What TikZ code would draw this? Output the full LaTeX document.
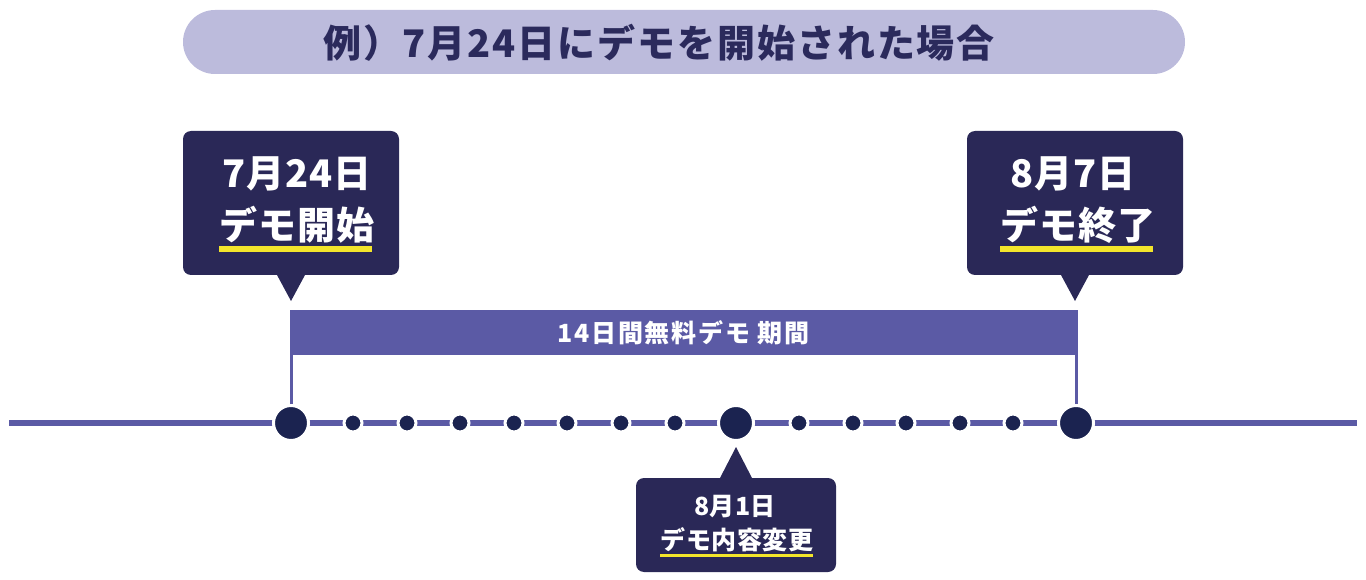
\documentclass[tikz,border=0pt]{standalone}
\usepackage{fontspec}
\usepackage{xcolor}
\usepackage{tikz}
\usetikzlibrary{positioning}
\newfontfamily\jpfont{Noto Sans CJK JP}

\definecolor{TitleFill}{HTML}{BCBBDC}
\definecolor{TitleInk}{HTML}{2B2A5C}
\definecolor{BoxNavy}{HTML}{2A2857}
\definecolor{DotNavy}{HTML}{1B2350}
\definecolor{BarPurple}{HTML}{5B5AA5}
\definecolor{MarkYellow}{HTML}{F3E52B}

\begin{document}
\begin{tikzpicture}[
  x=1pt, y=-1pt,
  pill/.style={rectangle, rounded corners=32pt, fill=TitleFill, minimum width=1002pt, minimum height=64pt, outer sep=0pt},
  titletext/.style={TitleInk, font=\jpfont\bfseries\fontsize{38}{44}\selectfont\addfontfeatures{LetterSpace=5}},
  callout/.style={rectangle, rounded corners=8pt, fill=BoxNavy, minimum width=216pt, minimum height=144pt, outer sep=0pt},
  smallcallout/.style={callout, minimum width=200pt, minimum height=94pt},
  bigtext/.style={white, inner sep=0pt, font=\jpfont\bfseries\fontsize{38}{44}\selectfont\addfontfeatures{LetterSpace=3}},
  smalltext/.style={white, inner sep=0pt, font=\jpfont\bfseries\fontsize{25}{30}\selectfont\addfontfeatures{LetterSpace=2}},
  hlmark/.style={line width=6pt, MarkYellow},
  period/.style={rectangle, fill=BarPurple, minimum width=788pt, minimum height=45pt, outer sep=0pt, text=white, font=\jpfont\bfseries\fontsize{25}{30}\selectfont\addfontfeatures{LetterSpace=7}},
  timeline/.style={line width=6pt, BarPurple},
  tickline/.style={line width=3pt, BarPurple},
  bigdot/.style={circle, fill=DotNavy, draw=white, line width=3pt, minimum size=35pt, inner sep=0pt},
  smalldot/.style={circle, fill=DotNavy, draw=white, line width=3pt, minimum size=18pt, inner sep=0pt}
]
\useasboundingbox (0,0) rectangle (1366,580);

% Title
\node[pill] (title) at (684,42) {};
\node[titletext] (titlelabel) at (659,43) {例）7月24日にデモを開始された場合};

% --- Top callouts ---
\node[callout] (start) at (291,203) {};
\fill[BoxNavy] ([xshift=-14pt]start.south) -- ([xshift=14pt]start.south) -- ([yshift=-26pt]start.south) -- cycle;
\node[bigtext] (startdate) at (297,174) {7月24日};
\node[bigtext] (startevent) at (297,225) {デモ開始};
\draw[hlmark] (219,249) -- (372,249);

\node[callout] (finish) at (1075,203) {};
\fill[BoxNavy] ([xshift=-14pt]finish.south) -- ([xshift=14pt]finish.south) -- ([yshift=-26pt]finish.south) -- cycle;
\node[bigtext] (finishdate) at (1073,174) {8月7日};
\node[bigtext] (finishevent) at (1078,225) {デモ終了};
\draw[hlmark] (1000,249) -- (1153,249);

% --- Demo period bar ---
\node[period] (period) at (683.5,332.5) {14日間無料デモ 期間};

% Timeline
\coordinate (lineL) at (9,423);
\coordinate (lineR) at (1357,423);
\draw[timeline] (lineL) -- (lineR);

\node[bigdot] (dstart) at (291,423) {};
\node[bigdot] (dchange) at (736,423) {};
\node[bigdot] (dend) at (1076,423) {};
\foreach \x [count=\i] in {353,407,460,514,567,621,675,799,853,906,960,1013}
  \node[smalldot] (day\i) at (\x,423) {};

\draw[tickline] (dstart) -- (dstart |- period.south);
\draw[tickline] (dend) -- (dend |- period.south);

% --- Bottom callout ---
\node[smallcallout] (change) at (736,525) {};
\fill[BoxNavy] ([xshift=-16pt]change.north) -- ([xshift=16pt]change.north) -- ([yshift=31pt]change.north) -- cycle;
\node[smalltext] (changedate) at (735,507) {8月1日};
\node[smalltext] (changeevent) at (737,540) {デモ内容変更};
\draw[hlmark, line width=3.5pt] (660,555.5) -- (813,555.5);

\end{tikzpicture}
\end{document}
